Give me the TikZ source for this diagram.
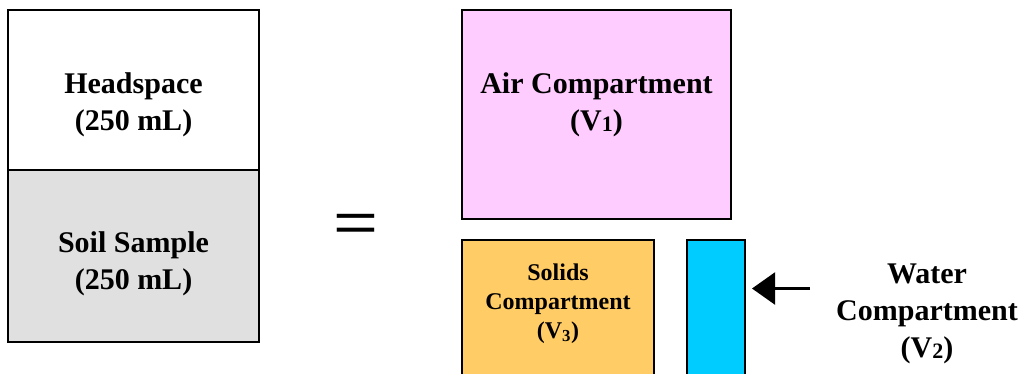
\documentclass[tikz,border=0pt]{standalone}
\usepackage{fontspec}
\setmainfont{Liberation Serif}
\newfontfamily\eqfont{Liberation Sans}
\usetikzlibrary{arrows.meta}
\definecolor{soilgray}{HTML}{E0E0E0}
\definecolor{airpink}{HTML}{FFCCFF}
\definecolor{solidorange}{HTML}{FFCC66}
\definecolor{watercyan}{HTML}{00CCFF}
\newcommand{\flatsub}[1]{{\fontsize{22}{22}\selectfont\raisebox{-1pt}{#1}}}
\begin{document}
\begin{tikzpicture}[x=1pt,y=-1pt,
  boxline/.style={draw=black,line width=1.8pt},
  bigtxt/.style={font=\bfseries\fontsize{30}{36}\selectfont,anchor=base,inner sep=0pt},
  smalltxt/.style={font=\bfseries\fontsize{24}{29}\selectfont,anchor=base,inner sep=0pt},
  arr/.style={line width=2.2pt,-{Triangle[length=23pt,width=32pt]}}]
\useasboundingbox (0,0) rectangle (1022,373);
\clip (0,0) rectangle (1022,373);
% left container
\filldraw[boxline,fill=white] (8,10) rectangle (259,170);
\filldraw[boxline,fill=soilgray] (8,170) rectangle (259,342);
\node[bigtxt] (hs1) at (133.5,93) {Headspace};
\node[bigtxt] (hs2) at (133.5,130) {(250 mL)};
\node[bigtxt] (ss1) at (133.5,252) {Soil Sample};
\node[bigtxt] (ss2) at (133.5,289) {(250 mL)};
% equals
\node[font=\eqfont\fontsize{77}{77}\selectfont,inner sep=0pt,anchor=base] (eq) at (356,241) {\scalebox{1}[0.72]{=}};
% compartments
\filldraw[boxline,fill=airpink] (462,10) rectangle (731,219);
\node[bigtxt] (air1) at (596.5,93) {Air Compartment};
\node[bigtxt] (air2) at (596.5,130) {(V\flatsub{1})};
\filldraw[boxline,fill=solidorange] (462,240) rectangle (654,390);
\node[smalltxt] (sol1) at (558,280) {Solids};
\node[smalltxt] (sol2) at (558,309) {Compartment};
\node[smalltxt] (sol3) at (558,338) {(V\textsubscript{3})};
\filldraw[boxline,fill=watercyan] (687,240) rectangle (745,390);
\node[bigtxt] (w1) at (927,283) {Water};
\node[bigtxt] (w2) at (927,320) {Compartment};
\node[bigtxt] (w3) at (927,357) {(V\flatsub{2})};
\coordinate (arrstart) at (810,288.5);
\coordinate (arrend) at (752,288.5);
\draw[arr] (arrstart) -- (arrend);
\end{tikzpicture}
\end{document}
